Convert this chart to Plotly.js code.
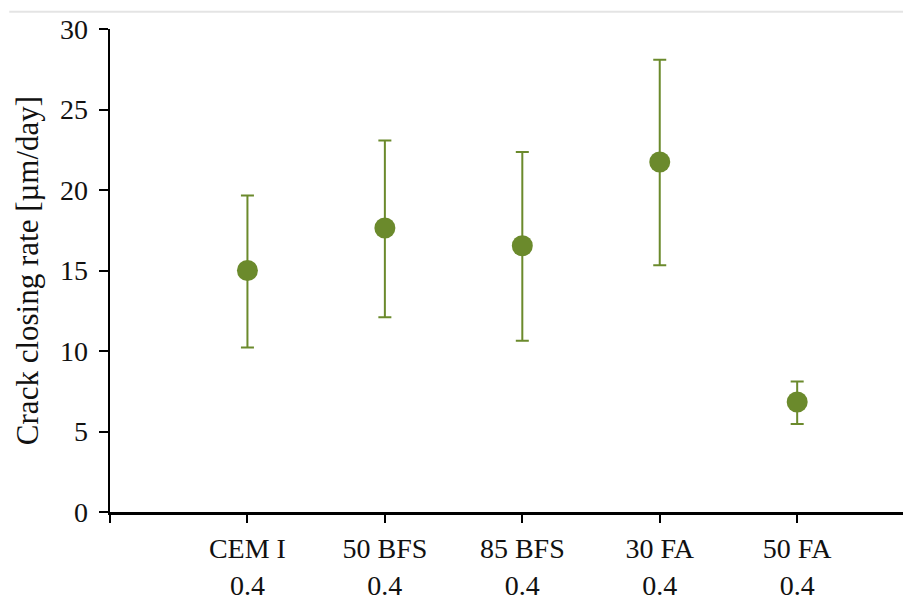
<!DOCTYPE html>
<html>
<head>
<meta charset="utf-8">
<script src="https://cdn.plot.ly/plotly-3.0.1.min.js"></script>
<style>html,body{margin:0;padding:0;background:#fff;}#chart{width:903px;height:599px;}</style>
</head>
<body>
<div id="chart"></div>
<script>
// Data
const categories = ['CEM I', '50 BFS', '85 BFS', '30 FA', '50 FA'];
const wcRatio = ['0.4', '0.4', '0.4', '0.4', '0.4'];
const positions = [1, 2, 3, 4, 5];
const closingRate = [15.0, 17.64, 16.54, 21.74, 6.83];
const upperBound = [19.66, 23.08, 22.36, 28.09, 8.11];
const lowerBound = [10.22, 12.09, 10.64, 15.32, 5.47];
const yTicks = [0, 5, 10, 15, 20, 25, 30];

const green = '#6b8a2c';
const errPlus = upperBound.map((u, i) => u - closingRate[i]);
const errMinus = lowerBound.map((l, i) => closingRate[i] - l);
const tickText = [''].concat(categories.map((c, i) => c + '<br>' + wcRatio[i]));

const trace = {
  x: positions,
  y: closingRate,
  type: 'scatter',
  mode: 'markers',
  marker: {color: green, size: 21},
  error_y: {
    type: 'data', symmetric: false,
    array: errPlus, arrayminus: errMinus,
    color: green, thickness: 2, width: 6.5
  },
  showlegend: false,
  hoverinfo: 'x+y'
};

const layout = {
  width: 903, height: 599,
  margin: {l: 110, r: 0, t: 29, b: 87},
  paper_bgcolor: '#fff', plot_bgcolor: '#fff',
  font: {family: '"Liberation Serif", "Times New Roman", serif', size: 28, color: '#111'},
  showlegend: false,
  xaxis: {
    range: [0, 5.77],
    tickmode: 'array', tickvals: [0].concat(positions), ticktext: tickText,
    showgrid: false, zeroline: false,
    showline: true, linecolor: '#000', linewidth: 2.5,
    ticks: 'outside', ticklen: 8, tickwidth: 2, tickcolor: '#000',
    ticklabelstandoff: 2,
    tickfont: {size: 28, color: '#111'}
  },
  yaxis: {
    range: [0, 30],
    tickmode: 'array', tickvals: yTicks,
    showgrid: false, zeroline: false,
    showline: true, linecolor: '#000', linewidth: 2.5,
    ticks: 'outside', ticklen: 9, tickwidth: 2, tickcolor: '#000',
    ticklabelstandoff: 5,
    tickfont: {size: 28, color: '#111'},
    title: {text: 'Crack closing rate [µm/day]', font: {size: 31, color: '#111'}, standoff: 12}
  },
  shapes: [{
    type: 'line', xref: 'paper', yref: 'paper',
    x0: -0.127, x1: 1, y0: 1.0358, y1: 1.0358,
    line: {color: '#e4e4e4', width: 2}
  }]
};

Plotly.newPlot('chart', [trace], layout, {displayModeBar: false, staticPlot: true});
</script>
</body>
</html>
